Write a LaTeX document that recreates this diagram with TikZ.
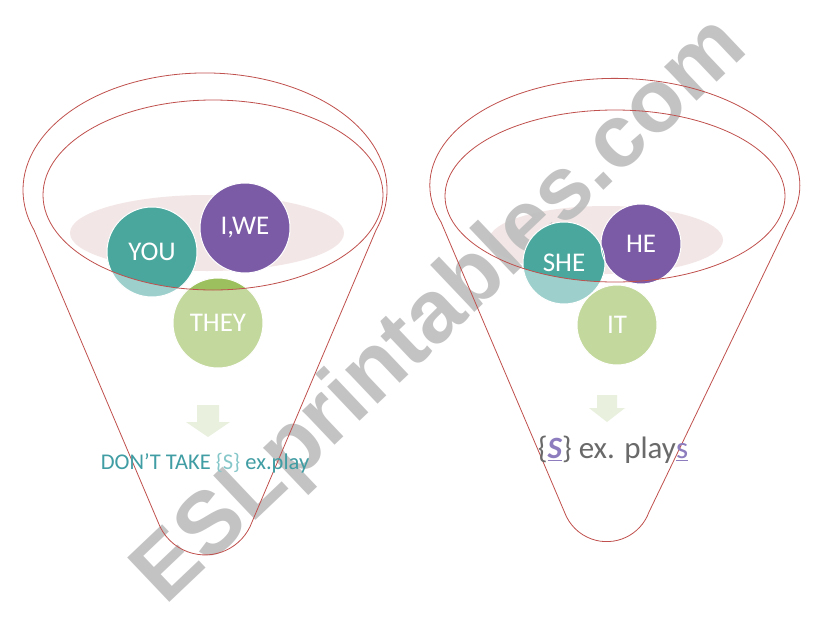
\documentclass[tikz,border=0pt]{standalone}
\usepackage{fontspec}
\setmainfont{Carlito}
\newfontfamily\markfont{Liberation Sans}

\definecolor{funnelred}{HTML}{C0504D}
\definecolor{pinkbowl}{HTML}{F3E6E6}
\definecolor{tealdark}{HTML}{4AA79E}
\definecolor{teallight}{HTML}{9DD0CC}
\definecolor{plum}{HTML}{7B5BA6}
\definecolor{greendark}{HTML}{9DC05F}
\definecolor{greenlight}{HTML}{C3D89C}
\definecolor{arrowgreen}{HTML}{E9F0DE}
\definecolor{textteal}{HTML}{3F9DA3}
\definecolor{texttealpale}{HTML}{86C7CA}
\definecolor{lilac}{HTML}{8E7DBE}
\definecolor{textgray}{HTML}{6A6A6A}
\definecolor{markgray}{HTML}{BDBDBD}

\tikzset{
    funnel/.style={draw=funnelred, line width=0.8pt},
    pron/.style={circle, draw=white, line width=1pt, minimum size=90pt, inner sep=0pt,
        text=white, font=\fontsize{27}{27}\selectfont},
    pronsmall/.style={pron, minimum size=80pt},
    downarrow/.style={fill=arrowgreen},
}

\begin{document}
\begin{tikzpicture}[x=1pt, y=-1pt]
        \useasboundingbox (0,0) rectangle (821,616);
        \fill[white] (0,0) rectangle (821,616);

        % --- 桶の中の影 ---
        \fill[pinkbowl] (207,233) ellipse[x radius=137, y radius=38];
        \fill[pinkbowl] (606,240) ellipse[x radius=117, y radius=34];

        % --- 透かし ---
        \node[font=\markfont\bfseries\fontsize{89}{89}\selectfont, text=markgray, opacity=0.9,
            rotate=43.5] (esl) at (442,312) {ESLprintables.com};

        % --- 円の位置 ---
        \coordinate (you)  at (152,252);
        \coordinate (iwe)  at (245,228);
        \coordinate (they) at (218,323);
        \coordinate (she)  at (564,263);
        \coordinate (he)   at (641,244);
        \coordinate (it)   at (617,325);

        % --- 円（淡い色） ---
        \fill[teallight]  (you)  circle[radius=45];
        \fill[plum]       (iwe)  circle[radius=45];
        \fill[greenlight] (they) circle[radius=45];
        \fill[teallight]  (she)  circle[radius=41];
        \fill[plum]       (he)   circle[radius=40];
        \fill[greenlight] (it)   circle[radius=40];

        % ★★★ 内側の楕円の中だけ濃い色 ★★★
        \begin{scope}
            \clip (213,195) ellipse[x radius=170, y radius=95];
            \fill[tealdark]  (you)  circle[radius=45];
            \fill[greendark] (they) circle[radius=45];
        \end{scope}
        \begin{scope}
            \clip (615,196) ellipse[x radius=170, y radius=86];
            \fill[tealdark]  (she)  circle[radius=41];
        \end{scope}

        % --- ラベル ---
        \node[pron] (youlbl)  at (you)  {YOU};
        \node[pron] (iwelbl)  at (iwe)  {I,WE};
        \node[pron] (theylbl) at (they) {THEY};
        \node[pronsmall, minimum size=82pt] (shelbl) at (she) {SHE};
        \node[pronsmall] (helbl) at (he) {HE};
        \node[pronsmall] (itlbl) at (it) {IT};

        % --- じょうご（左） ---
        \draw[funnel] (34,230) arc[start angle=160, end angle=380, x radius=182, y radius=117]
            -- (252,522) arc[start angle=20, end angle=160, radius=50] -- cycle;
        \draw[funnel] (213,195) ellipse[x radius=170, y radius=95];

        % --- じょうご（右） ---
        \draw[funnel] (441,222) arc[start angle=160, end angle=380, x radius=185, y radius=107]
            -- (649,512) arc[start angle=20, end angle=160, radius=45] -- cycle;
        \draw[funnel] (615,196) ellipse[x radius=170, y radius=86];

        % --- 矢印 ---
        \fill[downarrow] (197,405) -- (219,405) -- (219,422) -- (230,422) -- (208,437)
            -- (186,422) -- (197,422) -- cycle;
        \fill[downarrow] (597,395) -- (617,395) -- (617,408) -- (625,408) -- (607,422)
            -- (589,408) -- (597,408) -- cycle;

        % --- 結論 ---
        \node[font=\fontsize{22.5}{22.5}\selectfont, text=textteal] (ruleL) at (205,463)
            {DON’T TAKE \textcolor{texttealpale}{\{S\}} ex.play};
        \node[font=\fontsize{31}{31}\selectfont, text=textgray] (ruleR) at (613,450)
            {\{\textcolor{lilac}{\underline{\bfseries\itshape S}}\} ex. play\textcolor{lilac}{\underline{s}}};

    \end{tikzpicture}
\end{document}
